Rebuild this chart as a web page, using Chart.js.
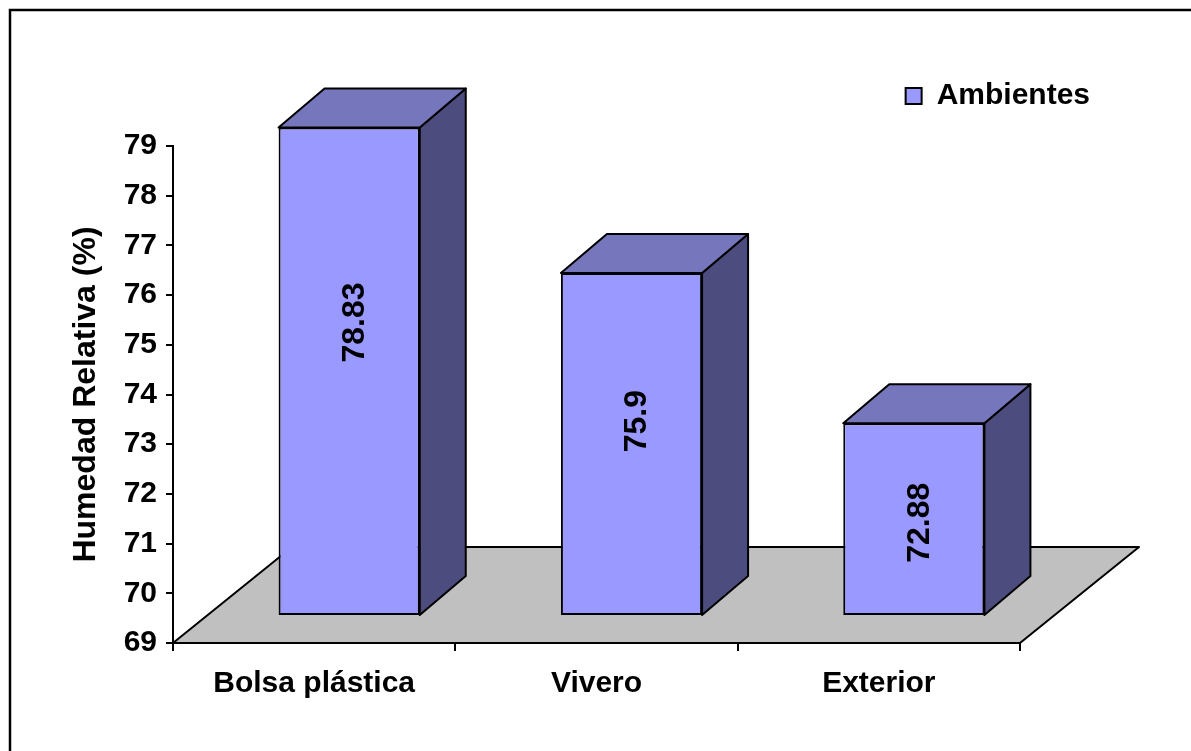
<!DOCTYPE html>
<html>
<head>
<meta charset="utf-8">
<title>Humedad Relativa</title>
<script src="https://cdn.jsdelivr.net/npm/chart.js@4.4.1/dist/chart.umd.min.js"></script>
<style>
  html, body { margin: 0; padding: 0; background: #fff; overflow: hidden; }
  canvas { display: block; }
</style>
</head>
<body>
<canvas id="chart" width="1191" height="751"></canvas>
<script>
// data
const categories = ['Bolsa plástica', 'Vivero', 'Exterior'];
const humedad = [78.83, 75.9, 72.88];
const seriesName = 'Ambientes';
const yMin = 69, yMax = 79, yStep = 1;
const yTitle = 'Humedad Relativa (%)';

const FONT = 'Liberation Sans, Arial, sans-serif';
const frontColor = '#9999FF', topColor = '#7676BC', sideColor = '#4C4C7E', floorColor = '#C0C0C0';

// 3d look: the floor depth and where the bars sit inside it
const floorDepth = {x: 119, y: -96};
const barShift = {x: 35, y: -27};
const barDepth = {x: 46, y: -39};

const poly = (ctx, pts, fill) => {
  ctx.beginPath();
  ctx.moveTo(pts[0][0], pts[0][1]);
  for (let i = 1; i < pts.length; i++) ctx.lineTo(pts[i][0], pts[i][1]);
  ctx.closePath();
  ctx.fillStyle = fill;
  ctx.fill();
  ctx.stroke();
};

const frame3d = {
  id: 'frame3d',
  beforeDraw(chart) {
    const ctx = chart.ctx;
    ctx.save();
    ctx.strokeStyle = '#000';
    ctx.lineWidth = 2.5;
    ctx.beginPath();
    ctx.moveTo(10, chart.height + 5);
    ctx.lineTo(10, 10);
    ctx.lineTo(chart.width + 5, 10);
    ctx.stroke();
    ctx.restore();
  },
  beforeDatasetsDraw(chart) {
    const ctx = chart.ctx;
    const xs = chart.scales.x, ys = chart.scales.y;
    const y0 = ys.getPixelForValue(yMin);
    ctx.save();
    ctx.strokeStyle = '#000';
    ctx.lineWidth = 2;
    ctx.lineJoin = 'round';
    poly(ctx, [
      [xs.left, y0], [xs.right, y0],
      [xs.right + floorDepth.x, y0 + floorDepth.y],
      [xs.left + floorDepth.x, y0 + floorDepth.y]
    ], floorColor);
    ctx.restore();
    // bars stand back from the axis plane
    ctx.save();
    ctx.translate(barShift.x, barShift.y);
  },
  afterDatasetsDraw(chart) {
    const ctx = chart.ctx;
    ctx.restore();
    const meta = chart.getDatasetMeta(0);
    ctx.save();
    ctx.strokeStyle = '#000';
    ctx.lineWidth = 2;
    ctx.lineJoin = 'round';
    meta.data.forEach((bar, i) => {
      const p = bar.getProps(['x', 'y', 'base', 'width'], true);
      const l = p.x - p.width / 2 + barShift.x;
      const r = p.x + p.width / 2 + barShift.x;
      const t = p.y + barShift.y;
      const b = p.base + barShift.y;
      poly(ctx, [[r, t], [r + barDepth.x, t + barDepth.y], [r + barDepth.x, b + barDepth.y], [r, b]], sideColor);
      poly(ctx, [[l, t], [l + barDepth.x, t + barDepth.y], [r + barDepth.x, t + barDepth.y], [r, t]], topColor);

      // value label, rotated
      const h = b - t;
      const ly = t + 37.6 + 0.323 * h;
      ctx.save();
      ctx.translate((l + r) / 2 + 6, ly);
      ctx.rotate(-Math.PI / 2);
      ctx.fillStyle = '#000';
      ctx.font = 'bold 32px ' + FONT;
      ctx.textAlign = 'center';
      ctx.textBaseline = 'middle';
      ctx.fillText(String(humedad[i]), 0, 0);
      ctx.restore();
    });
    ctx.restore();
  }
};

const chart = new Chart(document.getElementById('chart'), {
  type: 'bar',
  data: {
    labels: categories,
    datasets: [{
      label: seriesName,
      data: humedad,
      base: yMin,
      backgroundColor: frontColor,
      borderColor: '#000',
      borderWidth: 2,
      borderSkipped: false,
      categoryPercentage: 1,
      barPercentage: 0.5,
      clip: false
    }]
  },
  options: {
    responsive: false,
    animation: false,
    layout: { padding: { left: 0, top: 71, right: 91, bottom: 28 } },
    plugins: {
      tooltip: { enabled: false },
      legend: {
        position: 'top',
        align: 'end',
        labels: {
          boxWidth: 16,
          boxHeight: 16,
          padding: 10,
          color: '#000',
          font: { family: FONT, size: 30, weight: 'bold' }
        }
      }
    },
    scales: {
      x: {
        grid: { drawOnChartArea: false, drawTicks: true, tickLength: 8, color: '#000', lineWidth: 2, offset: true },
        border: { display: true, color: '#000', width: 2 },
        ticks: { color: '#000', padding: 15, maxRotation: 0, font: { family: FONT, size: 30, weight: 'bold' } },
        afterFit: s => { s.height = 80; }
      },
      y: {
        min: yMin,
        max: yMax,
        ticks: { stepSize: yStep, color: '#000', padding: 9, font: { family: FONT, size: 30, weight: 'bold' } },
        grid: { drawOnChartArea: false, tickLength: 7, color: '#000', lineWidth: 2 },
        border: { display: true, color: '#000', width: 2 },
        title: { display: true, text: yTitle, color: '#000', padding: { top: 67, bottom: 0 }, font: { family: FONT, size: 32, weight: 'bold' } },
        afterFit: s => { s.width = 173; }
      },
      yPad: {
        position: 'right',
        grid: { display: false },
        border: { display: false },
        ticks: { display: false },
        afterFit: s => { s.width = 80; }
      },
      xPad: {
        type: 'category',
        labels: [''],
        position: 'top',
        grid: { display: false },
        border: { display: false },
        ticks: { display: false },
        afterFit: s => { s.height = 25; }
      }
    }
  },
  plugins: [frame3d]
});
</script>
</body>
</html>
